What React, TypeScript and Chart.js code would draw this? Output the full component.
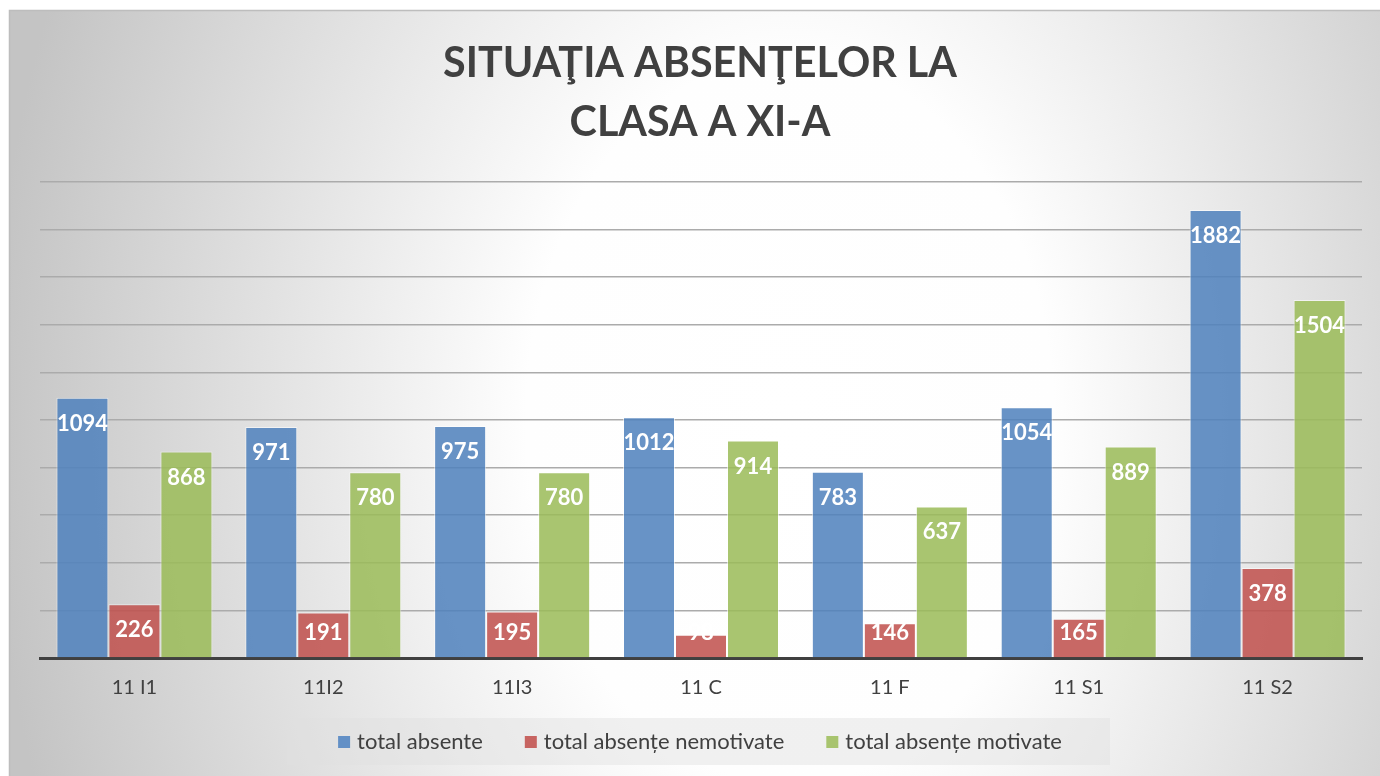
import React, { useEffect, useRef } from "react";
import { Chart, registerables } from "chart.js";

Chart.register(...registerables);

const categories = ["11 I1", "11I2", "11I3", "11 C", "11 F", "11 S1", "11 S2"];
const totalAbsente = [1094, 971, 975, 1012, 783, 1054, 1882];
const totalNemotivate = [226, 191, 195, 98, 146, 165, 378];
const totalMotivate = [868, 780, 780, 914, 637, 889, 1504];
const seriesNames = ["total absente", "total absențe nemotivate", "total absențe motivate"];
const titleLines = ["SITUAŢIA ABSENŢELOR LA", "CLASA A XI-A"];

const W = 1380;
const H = 776;
const FONT = "Lato, 'Open Sans', sans-serif";
const TEXT = "#404040";
const COLORS = ["rgba(79,129,189,0.86)", "rgba(192,80,77,0.86)", "rgba(155,187,89,0.86)"];
const SWATCH = ["#6390c6", "#c76461", "#a8c46e"];

const backgroundPlugin = {
  id: "bg",
  beforeDraw(chart: any) {
    const ctx = chart.ctx;
    ctx.save();
    ctx.fillStyle = "#ffffff";
    ctx.fillRect(0, 0, W, H);
    // elliptical radial gradient
    ctx.save();
    ctx.beginPath();
    ctx.rect(9, 10, W - 9, H - 10);
    ctx.clip();
    const cx = 790, cy = 420, rx = 800, ry = 1100;
    ctx.translate(cx, cy);
    ctx.scale(1, ry / rx);
    const g = ctx.createRadialGradient(0, 0, 0, 0, 0, rx);
    g.addColorStop(0, "#ffffff");
    g.addColorStop(0.33, "#fefefe");
    g.addColorStop(1, "#c4c4c4");
    ctx.fillStyle = g;
    ctx.fillRect(-cx - 10, -rx * 2, W + 40, rx * 4);
    ctx.restore();
    ctx.strokeStyle = "#bdbdbd";
    ctx.lineWidth = 1.5;
    ctx.beginPath();
    ctx.moveTo(9.5, H);
    ctx.lineTo(9.5, 10.5);
    ctx.lineTo(W, 10.5);
    ctx.stroke();

    // title
    ctx.fillStyle = TEXT;
    ctx.textAlign = "center";
    ctx.textBaseline = "middle";
    let size = 40;
    ctx.font = `bold ${size}px ${FONT}`;
    const w = ctx.measureText(titleLines[0]).width;
    size = Math.min(44, (size * 514) / w);
    ctx.font = `bold ${size}px ${FONT}`;
    ctx.fillText(titleLines[0], 700, 64);
    ctx.fillText(titleLines[1], 700, 123);

    // legend
    ctx.fillStyle = "rgba(225,225,225,0.45)";
    ctx.fillRect(287, 718, 823, 47);
    ctx.font = `22px ${FONT}`;
    ctx.textAlign = "left";
    const sw = 12, gapIn = 7, gapOut = 42;
    const widths = seriesNames.map((n) => ctx.measureText(n).width);
    const total = widths.reduce((a, b) => a + b, 0) + seriesNames.length * (sw + gapIn) + gapOut * (seriesNames.length - 1);
    let x = 700 - total / 2;
    seriesNames.forEach((n, i) => {
      ctx.fillStyle = SWATCH[i];
      ctx.fillRect(x, 736, sw, 12);
      ctx.fillStyle = TEXT;
      ctx.fillText(n, x + sw + gapIn, 742);
      x += sw + gapIn + widths[i] + gapOut;
    });
    ctx.restore();
  },
};

const labelPlugin = {
  id: "barLabels",
  afterDatasetsDraw(chart: any) {
    const ctx = chart.ctx;
    const base = chart.scales.y.getPixelForValue(0);
    ctx.save();
    ctx.fillStyle = "#ffffff";
    ctx.font = `bold 22px ${FONT}`;
    ctx.textAlign = "center";
    ctx.textBaseline = "middle";
    chart.data.datasets.forEach((ds: any, i: number) => {
      const meta = chart.getDatasetMeta(i);
      meta.data.forEach((el: any, j: number) => {
        const y = Math.min(el.y + 26, base - 25);
        ctx.fillText(String(ds.data[j]), el.x, y);
      });
    });
    ctx.restore();
  },
};

export default function App() {
  const ref = useRef<HTMLCanvasElement>(null);
  useEffect(() => {
    document.body.style.margin = "0";
    const chart = new Chart(ref.current as HTMLCanvasElement, {
      type: "bar",
      data: {
        labels: categories,
        datasets: [totalAbsente, totalNemotivate, totalMotivate].map((d, i) => ({
          label: seriesNames[i],
          data: d,
          backgroundColor: COLORS[i],
          borderColor: "rgba(255,255,255,0.55)",
          borderWidth: 1,
          barPercentage: 1,
          categoryPercentage: 0.826,
        })),
      },
      plugins: [backgroundPlugin, labelPlugin],
      options: {
        responsive: false,
        animation: false,
        devicePixelRatio: 1,
        layout: { padding: { left: 40, right: 18, top: 182, bottom: 0 } },
        plugins: { legend: { display: false }, title: { display: false }, tooltip: { enabled: false } },
        scales: {
          x: {
            grid: { display: false, drawTicks: false },
            border: { display: true, color: "#404040", width: 3 },
            ticks: { color: TEXT, font: { family: FONT, size: 20 }, padding: 18, maxRotation: 0 },
            afterFit: (s: any) => { s.height = H - 658; },
          },
          y: {
            min: 0,
            max: 2000,
            ticks: { display: false, stepSize: 200 },
            grid: { color: "#ababab", lineWidth: 1.5, drawTicks: false },
            border: { display: false },
            afterFit: (s: any) => { s.width = 0; },
          },
        },
      },
    });
    return () => chart.destroy();
  }, []);
  return (
    <div style={{ position: "absolute", left: 0, top: 0, width: W, height: H }}>
      <canvas ref={ref} width={W} height={H} style={{ width: W, height: H, display: "block" }} />
    </div>
  );
}
